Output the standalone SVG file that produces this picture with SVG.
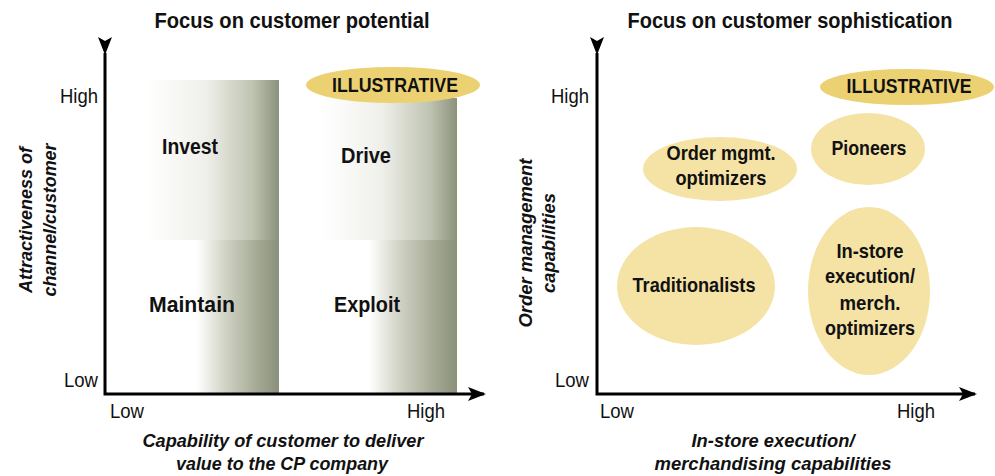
<svg xmlns="http://www.w3.org/2000/svg" width="995" height="476" viewBox="0 0 995 476">
  <style>
    text { font-family: "Liberation Sans", Arial, sans-serif; fill: #111; }
    .title { font-size: 22px; font-weight: bold; text-anchor: middle; }
    .quad { font-size: 22px; font-weight: bold; text-anchor: middle; }
    .label { font-size: 21px; font-weight: bold; text-anchor: middle; }
    .tick { font-size: 20px; }
    .axis-title { font-size: 19px; font-weight: bold; font-style: italic; text-anchor: middle; }
    .blob { fill: #f5e3a6; }
    .tag { fill: #ecd173; }
    .axis { stroke: #000; stroke-width: 3; fill: none; }
  </style>
  <defs>
    <marker id="arrow" viewBox="0 0 18 14" refX="16" refY="7" markerWidth="18" markerHeight="14" markerUnits="userSpaceOnUse" orient="auto">
      <path d="M0,0 L18,7 L0,14 L4,7 Z" fill="#000"/>
    </marker>
    <linearGradient id="gradTop" x1="0" y1="0" x2="1" y2="0">
      <stop offset="0" stop-color="#ffffff"/>
      <stop offset="0.45" stop-color="#efefea"/>
      <stop offset="0.8" stop-color="#bfc3b1"/>
      <stop offset="1" stop-color="#8b927b"/>
    </linearGradient>
    <linearGradient id="gradBottom" x1="0" y1="0" x2="1" y2="0">
      <stop offset="0" stop-color="#ffffff"/>
      <stop offset="0.35" stop-color="#d0d2c4"/>
      <stop offset="0.75" stop-color="#a3a893"/>
      <stop offset="1" stop-color="#8a917a"/>
    </linearGradient>
  </defs>

  <!-- Left matrix: customer potential -->
  <g id="left-chart">
    <text class="title" x="292" y="28" textLength="275" lengthAdjust="spacingAndGlyphs">Focus on customer potential</text>

    <g id="quad-invest">
      <rect x="147" y="80" width="132" height="160" fill="url(#gradTop)"/>
      <text class="quad" x="190" y="154" textLength="56" lengthAdjust="spacingAndGlyphs">Invest</text>
    </g>
    <g id="quad-drive">
      <rect x="322" y="98" width="135" height="142" fill="url(#gradTop)"/>
      <text class="quad" x="366" y="163" textLength="50" lengthAdjust="spacingAndGlyphs">Drive</text>
    </g>
    <g id="quad-maintain">
      <rect x="197" y="240" width="82" height="153" fill="url(#gradBottom)"/>
      <text class="quad" x="192" y="312" textLength="86" lengthAdjust="spacingAndGlyphs">Maintain</text>
    </g>
    <g id="quad-exploit">
      <rect x="369" y="240" width="88" height="153" fill="url(#gradBottom)"/>
      <text class="quad" x="367" y="312" textLength="66" lengthAdjust="spacingAndGlyphs">Exploit</text>
    </g>

    <g id="tag-left">
      <ellipse class="tag" cx="393" cy="85" rx="87" ry="18"/>
      <text class="label" x="395" y="92" textLength="126" lengthAdjust="spacingAndGlyphs">ILLUSTRATIVE</text>
    </g>

    <g id="left-ticks">
      <text class="tick" x="98" y="103" text-anchor="end" textLength="38" lengthAdjust="spacingAndGlyphs">High</text>
      <text class="tick" x="98" y="387" text-anchor="end" textLength="34" lengthAdjust="spacingAndGlyphs">Low</text>
      <text class="tick" x="110" y="418" textLength="34" lengthAdjust="spacingAndGlyphs">Low</text>
      <text class="tick" x="445" y="418" text-anchor="end" textLength="38" lengthAdjust="spacingAndGlyphs">High</text>
    </g>

    <text class="axis-title" x="283" y="447" textLength="281" lengthAdjust="spacingAndGlyphs">Capability of customer to deliver</text>
    <text class="axis-title" x="282" y="470" textLength="212" lengthAdjust="spacingAndGlyphs">value to the CP company</text>
    <g transform="translate(32,220) rotate(-90)">
      <text class="axis-title" x="0" y="0" textLength="146" lengthAdjust="spacingAndGlyphs">Attractiveness of</text>
      <text class="axis-title" x="0" y="24" textLength="153" lengthAdjust="spacingAndGlyphs">channel/customer</text>
    </g>
  </g>

  <!-- Right matrix: customer sophistication -->
  <g id="right-chart">
    <text class="title" x="790" y="28" textLength="325" lengthAdjust="spacingAndGlyphs">Focus on customer sophistication</text>

    <g id="tag-right">
      <ellipse class="tag" cx="907" cy="87" rx="87" ry="18"/>
      <text class="label" x="909" y="93" textLength="125" lengthAdjust="spacingAndGlyphs">ILLUSTRATIVE</text>
    </g>

    <g id="seg-order">
      <ellipse class="blob" cx="720" cy="169" rx="77" ry="32"/>
      <text class="label" x="721" y="160" textLength="109" lengthAdjust="spacingAndGlyphs">Order mgmt.</text>
      <text class="label" x="721" y="185" textLength="91" lengthAdjust="spacingAndGlyphs">optimizers</text>
    </g>
    <g id="seg-pioneers">
      <ellipse class="blob" cx="868" cy="149" rx="57" ry="36"/>
      <text class="label" x="869" y="155" textLength="75" lengthAdjust="spacingAndGlyphs">Pioneers</text>
    </g>
    <g id="seg-traditionalists">
      <ellipse class="blob" cx="696" cy="286" rx="79" ry="59"/>
      <text class="label" x="694" y="292" textLength="123" lengthAdjust="spacingAndGlyphs">Traditionalists</text>
    </g>
    <g id="seg-instore">
      <ellipse class="blob" cx="869" cy="291" rx="61" ry="84"/>
      <text class="label" x="870" y="258" textLength="67" lengthAdjust="spacingAndGlyphs">In-store</text>
      <text class="label" x="870" y="283" textLength="90" lengthAdjust="spacingAndGlyphs">execution/</text>
      <text class="label" x="870" y="310" textLength="61" lengthAdjust="spacingAndGlyphs">merch.</text>
      <text class="label" x="870" y="335" textLength="90" lengthAdjust="spacingAndGlyphs">optimizers</text>
    </g>

    <g id="right-ticks">
      <text class="tick" x="589" y="103" text-anchor="end" textLength="38" lengthAdjust="spacingAndGlyphs">High</text>
      <text class="tick" x="589" y="387" text-anchor="end" textLength="34" lengthAdjust="spacingAndGlyphs">Low</text>
      <text class="tick" x="600" y="418" textLength="34" lengthAdjust="spacingAndGlyphs">Low</text>
      <text class="tick" x="935" y="418" text-anchor="end" textLength="38" lengthAdjust="spacingAndGlyphs">High</text>
    </g>

    <text class="axis-title" x="773" y="447" textLength="163" lengthAdjust="spacingAndGlyphs">In-store execution/</text>
    <text class="axis-title" x="773" y="470" textLength="237" lengthAdjust="spacingAndGlyphs">merchandising capabilities</text>
    <g transform="translate(532,243) rotate(-90)">
      <text class="axis-title" x="0" y="0" textLength="169" lengthAdjust="spacingAndGlyphs">Order management</text>
      <text class="axis-title" x="0" y="23" textLength="100" lengthAdjust="spacingAndGlyphs">capabilities</text>
    </g>
  </g>

  <!-- Axes -->
  <g id="connectors">
    <polyline class="axis" points="105,53 105,394 484,394" marker-start="url(#arrow)" marker-end="url(#arrow)"/>
    <polyline class="axis" points="597,53 597,394 975,394" marker-start="url(#arrow)" marker-end="url(#arrow)"/>
  </g>
</svg>
